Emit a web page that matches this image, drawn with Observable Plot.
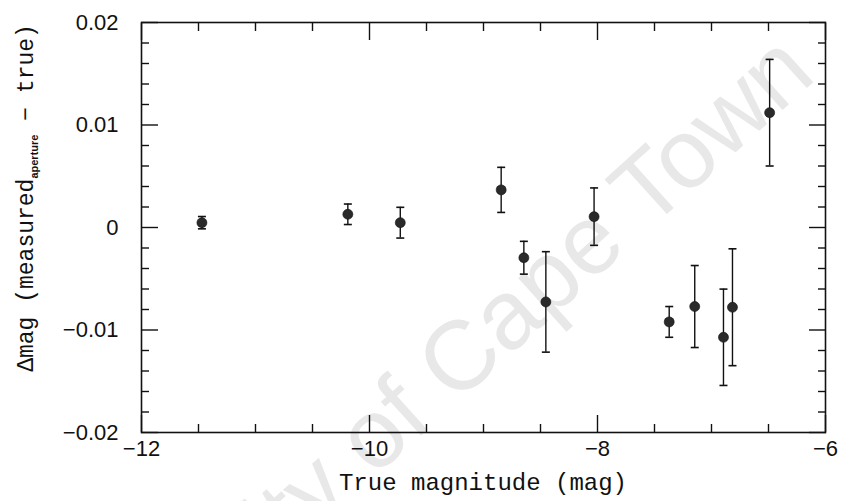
<!DOCTYPE html>
<html>
<head>
<meta charset="utf-8">
<script src="https://cdn.jsdelivr.net/npm/d3@7"></script>
<script src="https://cdn.jsdelivr.net/npm/@observablehq/plot@0.6"></script>
<style>
  html, body { margin: 0; padding: 0; background: #fff; }
  #wrap { position: relative; width: 844px; height: 501px; overflow: hidden; }
  #wm { position: absolute; left: 0; top: 0; }
  #chart { position: absolute; left: 0; top: 0; }
  #chart svg { background: transparent !important; }
</style>
</head>
<body>
<div id="wrap">
  <svg id="wm" width="844" height="501">
    <text transform="translate(818,78) rotate(-42)" text-anchor="end"
      font-family="Liberation Sans, Arial, sans-serif" font-size="98" fill="#e8e8e8">University of Cape Town</text>
  </svg>
  <div id="chart"></div>
</div>
<script>
// True magnitude (mag)
const mag   = [-11.47, -10.19, -9.73, -8.845, -8.646, -8.453, -8.03, -7.371, -7.147, -6.895, -6.816, -6.49];
// Δmag (measured_aperture − true)
const delta = [0.00047, 0.00129, 0.00047, 0.00367, -0.00295, -0.00726, 0.00106, -0.00921, -0.00771, -0.01071, -0.00778, 0.0112];
// error bar half-lengths
const err   = [0.0006, 0.001, 0.0015, 0.0022, 0.0016, 0.0049, 0.0028, 0.0015, 0.0040, 0.0047, 0.0057, 0.0052];

const xMajor = [-12, -10, -8, -6];
const xMinor = [-11.5, -11, -10.5, -9.5, -9, -8.5, -7.5, -7, -6.5];
const yMajor = [-0.02, -0.01, 0, 0.01, 0.02];
const yMinor = [-0.018, -0.016, -0.014, -0.012, -0.008, -0.006, -0.004, -0.002,
                0.002, 0.004, 0.006, 0.008, 0.012, 0.014, 0.016, 0.018];

const xTitle = "True magnitude (mag)";
const yTitleMain = "\u0394mag (measured";
const yTitleSub = "aperture";
const yTitleEnd = " \u2212 true)";

const fmt = d => (d < 0 ? "\u2212" : "") + String(Math.abs(d));

const data = mag.map((m, i) => ({x: m, y: delta[i], lo: delta[i] - err[i], hi: delta[i] + err[i]}));

const capSymbol = {
  draw(context, size) {
    const r = Math.sqrt(size / Math.PI);
    context.moveTo(-r, 0);
    context.lineTo(r, 0);
  }
};

const tickStyle = {stroke: "#111", strokeWidth: 1.4, fill: "none", label: null};
const labelFont = {fontFamily: "Liberation Sans, Arial, sans-serif", fontSize: 22, fill: "#111", tickSize: 0, label: null, tickFormat: fmt};
const MAJ = 17, MIN = 8;

const chart = Plot.plot({
  width: 844,
  height: 501,
  marginLeft: 141,
  marginRight: 19,
  marginTop: 22,
  marginBottom: 69,
  style: {background: "transparent", color: "#111"},
  x: {domain: [-12, -6]},
  y: {domain: [-0.02, 0.02]},
  marks: [
    // inward ticks: outward ticks shifted back inside the frame
    Plot.axisX(xMajor, {anchor: "bottom", tickSize: MAJ, dy: -MAJ, ...tickStyle}),
    Plot.axisX(xMinor, {anchor: "bottom", tickSize: MIN, dy: -MIN, ...tickStyle}),
    Plot.axisX(xMajor, {anchor: "top", tickSize: MAJ, dy: MAJ, ...tickStyle}),
    Plot.axisX(xMinor, {anchor: "top", tickSize: MIN, dy: MIN, ...tickStyle}),
    Plot.axisY(yMajor, {anchor: "left", tickSize: MAJ, dx: MAJ, ...tickStyle}),
    Plot.axisY(yMinor, {anchor: "left", tickSize: MIN, dx: MIN, ...tickStyle}),
    Plot.axisY(yMajor, {anchor: "right", tickSize: MAJ, dx: -MAJ, ...tickStyle}),
    Plot.axisY(yMinor, {anchor: "right", tickSize: MIN, dx: -MIN, ...tickStyle}),
    Plot.axisX(xMajor, {anchor: "bottom", tickPadding: 8, ...labelFont}),
    Plot.axisY(yMajor, {anchor: "left", tickPadding: 23, ...labelFont}),
    Plot.frame({stroke: "#111", strokeWidth: 1.6}),
    Plot.ruleX(data, {x: "x", y1: "lo", y2: "hi", stroke: "#111", strokeWidth: 1.4}),
    Plot.dot(data, {x: "x", y: "lo", symbol: capSymbol, r: 4, stroke: "#111", strokeWidth: 1.6, fill: "none"}),
    Plot.dot(data, {x: "x", y: "hi", symbol: capSymbol, r: 4, stroke: "#111", strokeWidth: 1.6, fill: "none"}),
    Plot.dot(data, {x: "x", y: "y", r: 5, fill: "#2a2a2a", stroke: "#111", strokeWidth: 0.6})
  ]
});
document.getElementById("chart").appendChild(chart);

const svgSel = d3.select(chart);
const plotLeft = 141, plotRight = 844 - 19;
svgSel.append("text")
  .attr("x", (plotLeft + plotRight) / 2)
  .attr("y", 490)
  .attr("text-anchor", "middle")
  .attr("font-family", "Liberation Mono, Courier New, monospace")
  .attr("font-size", 24)
  .attr("fill", "#111")
  .text(xTitle);

const yt = svgSel.append("text")
  .attr("transform", "translate(33,198) rotate(-90)")
  .attr("text-anchor", "middle")
  .attr("font-family", "Liberation Mono, Courier New, monospace")
  .attr("font-size", 23)
  .attr("fill", "#111")
  .style("white-space", "pre");
yt.append("tspan").text(yTitleMain);
yt.append("tspan").attr("dy", 5).attr("font-family", "Liberation Sans, Arial, sans-serif")
  .attr("font-weight", "bold").attr("font-size", 11).text(yTitleSub);
yt.append("tspan").attr("dy", -5).text(yTitleEnd);
</script>
</body>
</html>
